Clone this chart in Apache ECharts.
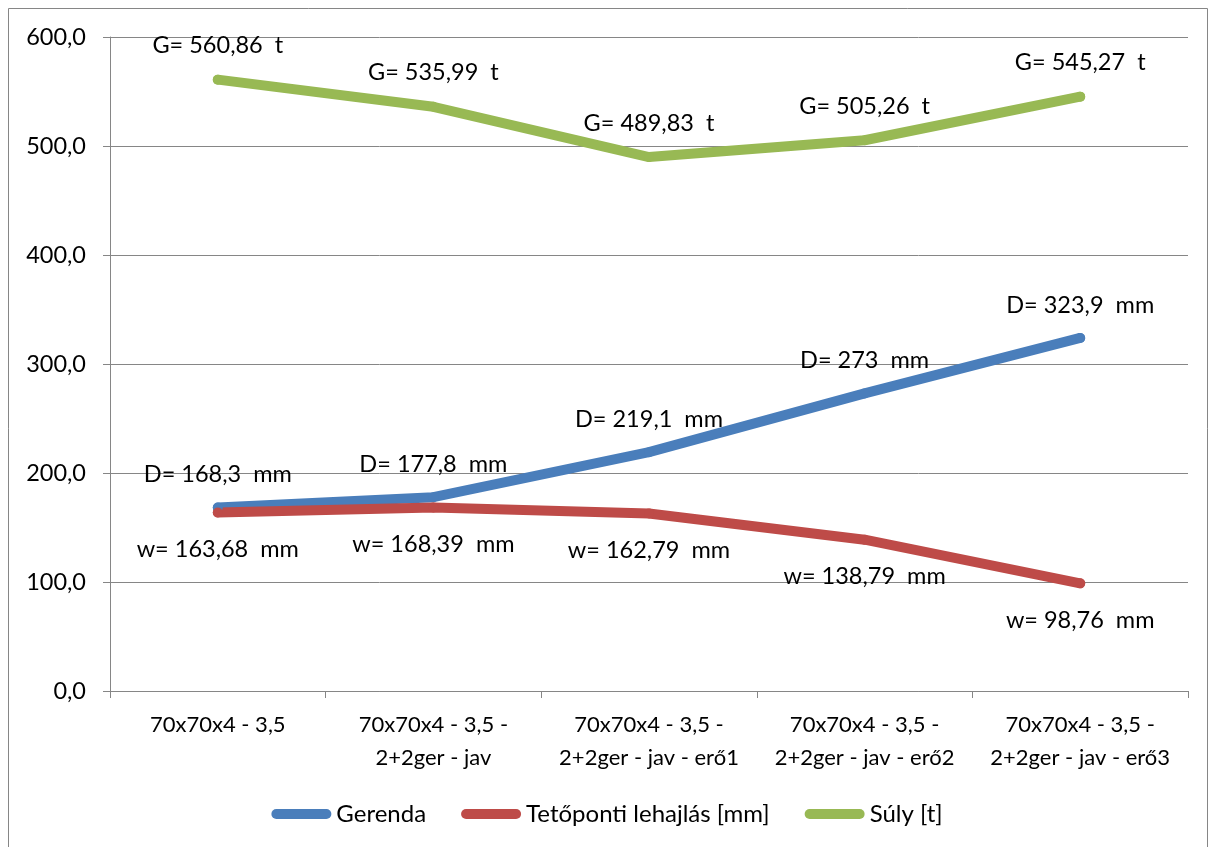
<!DOCTYPE html>
<html>
<head>
<meta charset="utf-8">
<script src="https://cdn.jsdelivr.net/npm/echarts@6/dist/echarts.min.js"></script>
<style>
  html, body { margin: 0; padding: 0; background: #fff; }
  #chart { width: 1214px; height: 847px; }
</style>
</head>
<body>
<div id="chart"></div>
<script>
// Cross-section variants along the x axis
const categories = [
  '70x70x4 - 3,5',
  '70x70x4 - 3,5 -\n2+2ger - jav',
  '70x70x4 - 3,5 -\n2+2ger - jav - erő1',
  '70x70x4 - 3,5 -\n2+2ger - jav - erő2',
  '70x70x4 - 3,5 -\n2+2ger - jav - erő3'
];
// Beam diameter D [mm]
const gerenda = [168.3, 177.8, 219.1, 273, 323.9];
// Roof-apex deflection w [mm]
const lehajlas = [163.68, 168.39, 162.79, 138.79, 98.76];
// Total weight G [t]
const suly = [560.86, 535.99, 489.83, 505.26, 545.27];
// Value axis ticks
const yMin = 0, yMax = 600, yStep = 100;

const FONT = 'Lato, "Open Sans", sans-serif';
const FS = 23.5;
const comma = v => String(v).replace('.', ',');

const chart = echarts.init(document.getElementById('chart'));

const legendIcon = 'path://M5,0 H55 A5,5 0 0 1 55,10 H5 A5,5 0 0 1 5,0 Z';

function lineSeries(name, data, color, prefix, unit, pos, dist) {
  return {
    name, type: 'line', data,
    symbol: 'circle', symbolSize: 10, showSymbol: true,
    lineStyle: { color, width: 10, cap: 'round', join: 'round' },
    itemStyle: { color, borderWidth: 0 },
    label: {
      show: true, position: pos, distance: dist,
      fontFamily: FONT, fontSize: FS, color: '#000',
      formatter: p => prefix + comma(p.value) + '  ' + unit
    },
    emphasis: { disabled: true },
    animation: false
  };
}

chart.setOption({
  backgroundColor: '#fff',
  animation: false,
  graphic: [{
    type: 'rect', silent: true,
    shape: { x: 8.5, y: 8.5, width: 1199, height: 840 },
    style: { fill: 'none', stroke: '#868686', lineWidth: 1 }
  }],
  grid: { left: 110, right: 26, top: 37, bottom: 156, containLabel: false },
  legend: {
    bottom: 16, left: 'center',
    icon: legendIcon, itemWidth: 60, itemHeight: 10, itemGap: 35,
    textStyle: { fontFamily: FONT, fontSize: 24, color: '#000' },
    data: ['Gerenda', 'Tetőponti lehajlás [mm]', 'Súly [t]']
  },
  xAxis: {
    type: 'category', data: categories, boundaryGap: true,
    axisLine: { lineStyle: { color: '#868686', width: 1 } },
    axisTick: { show: true, length: 7, lineStyle: { color: '#868686' } },
    axisLabel: { fontFamily: FONT, fontSize: 22, color: '#000', margin: 17, lineHeight: 33, interval: 0 }
  },
  yAxis: {
    type: 'value', min: yMin, max: yMax, interval: yStep,
    axisLine: { show: true, lineStyle: { color: '#868686', width: 1 } },
    axisTick: { show: true, length: 7, inside: false, lineStyle: { color: '#868686' } },
    splitLine: { lineStyle: { color: '#868686', width: 1 } },
    axisLabel: { fontFamily: FONT, fontSize: FS, color: '#000', margin: 24, formatter: v => v.toFixed(1).replace('.', ',') }
  },
  series: [
    lineSeries('Gerenda', gerenda, '#4A7EBB', 'D= ', 'mm', 'top', 16),
    lineSeries('Tetőponti lehajlás [mm]', lehajlas, '#BE4B48', 'w= ', 'mm', 'bottom', 20),
    lineSeries('Súly [t]', suly, '#98B954', 'G= ', 't', 'top', 17)
  ]
});
</script>
</body>
</html>
